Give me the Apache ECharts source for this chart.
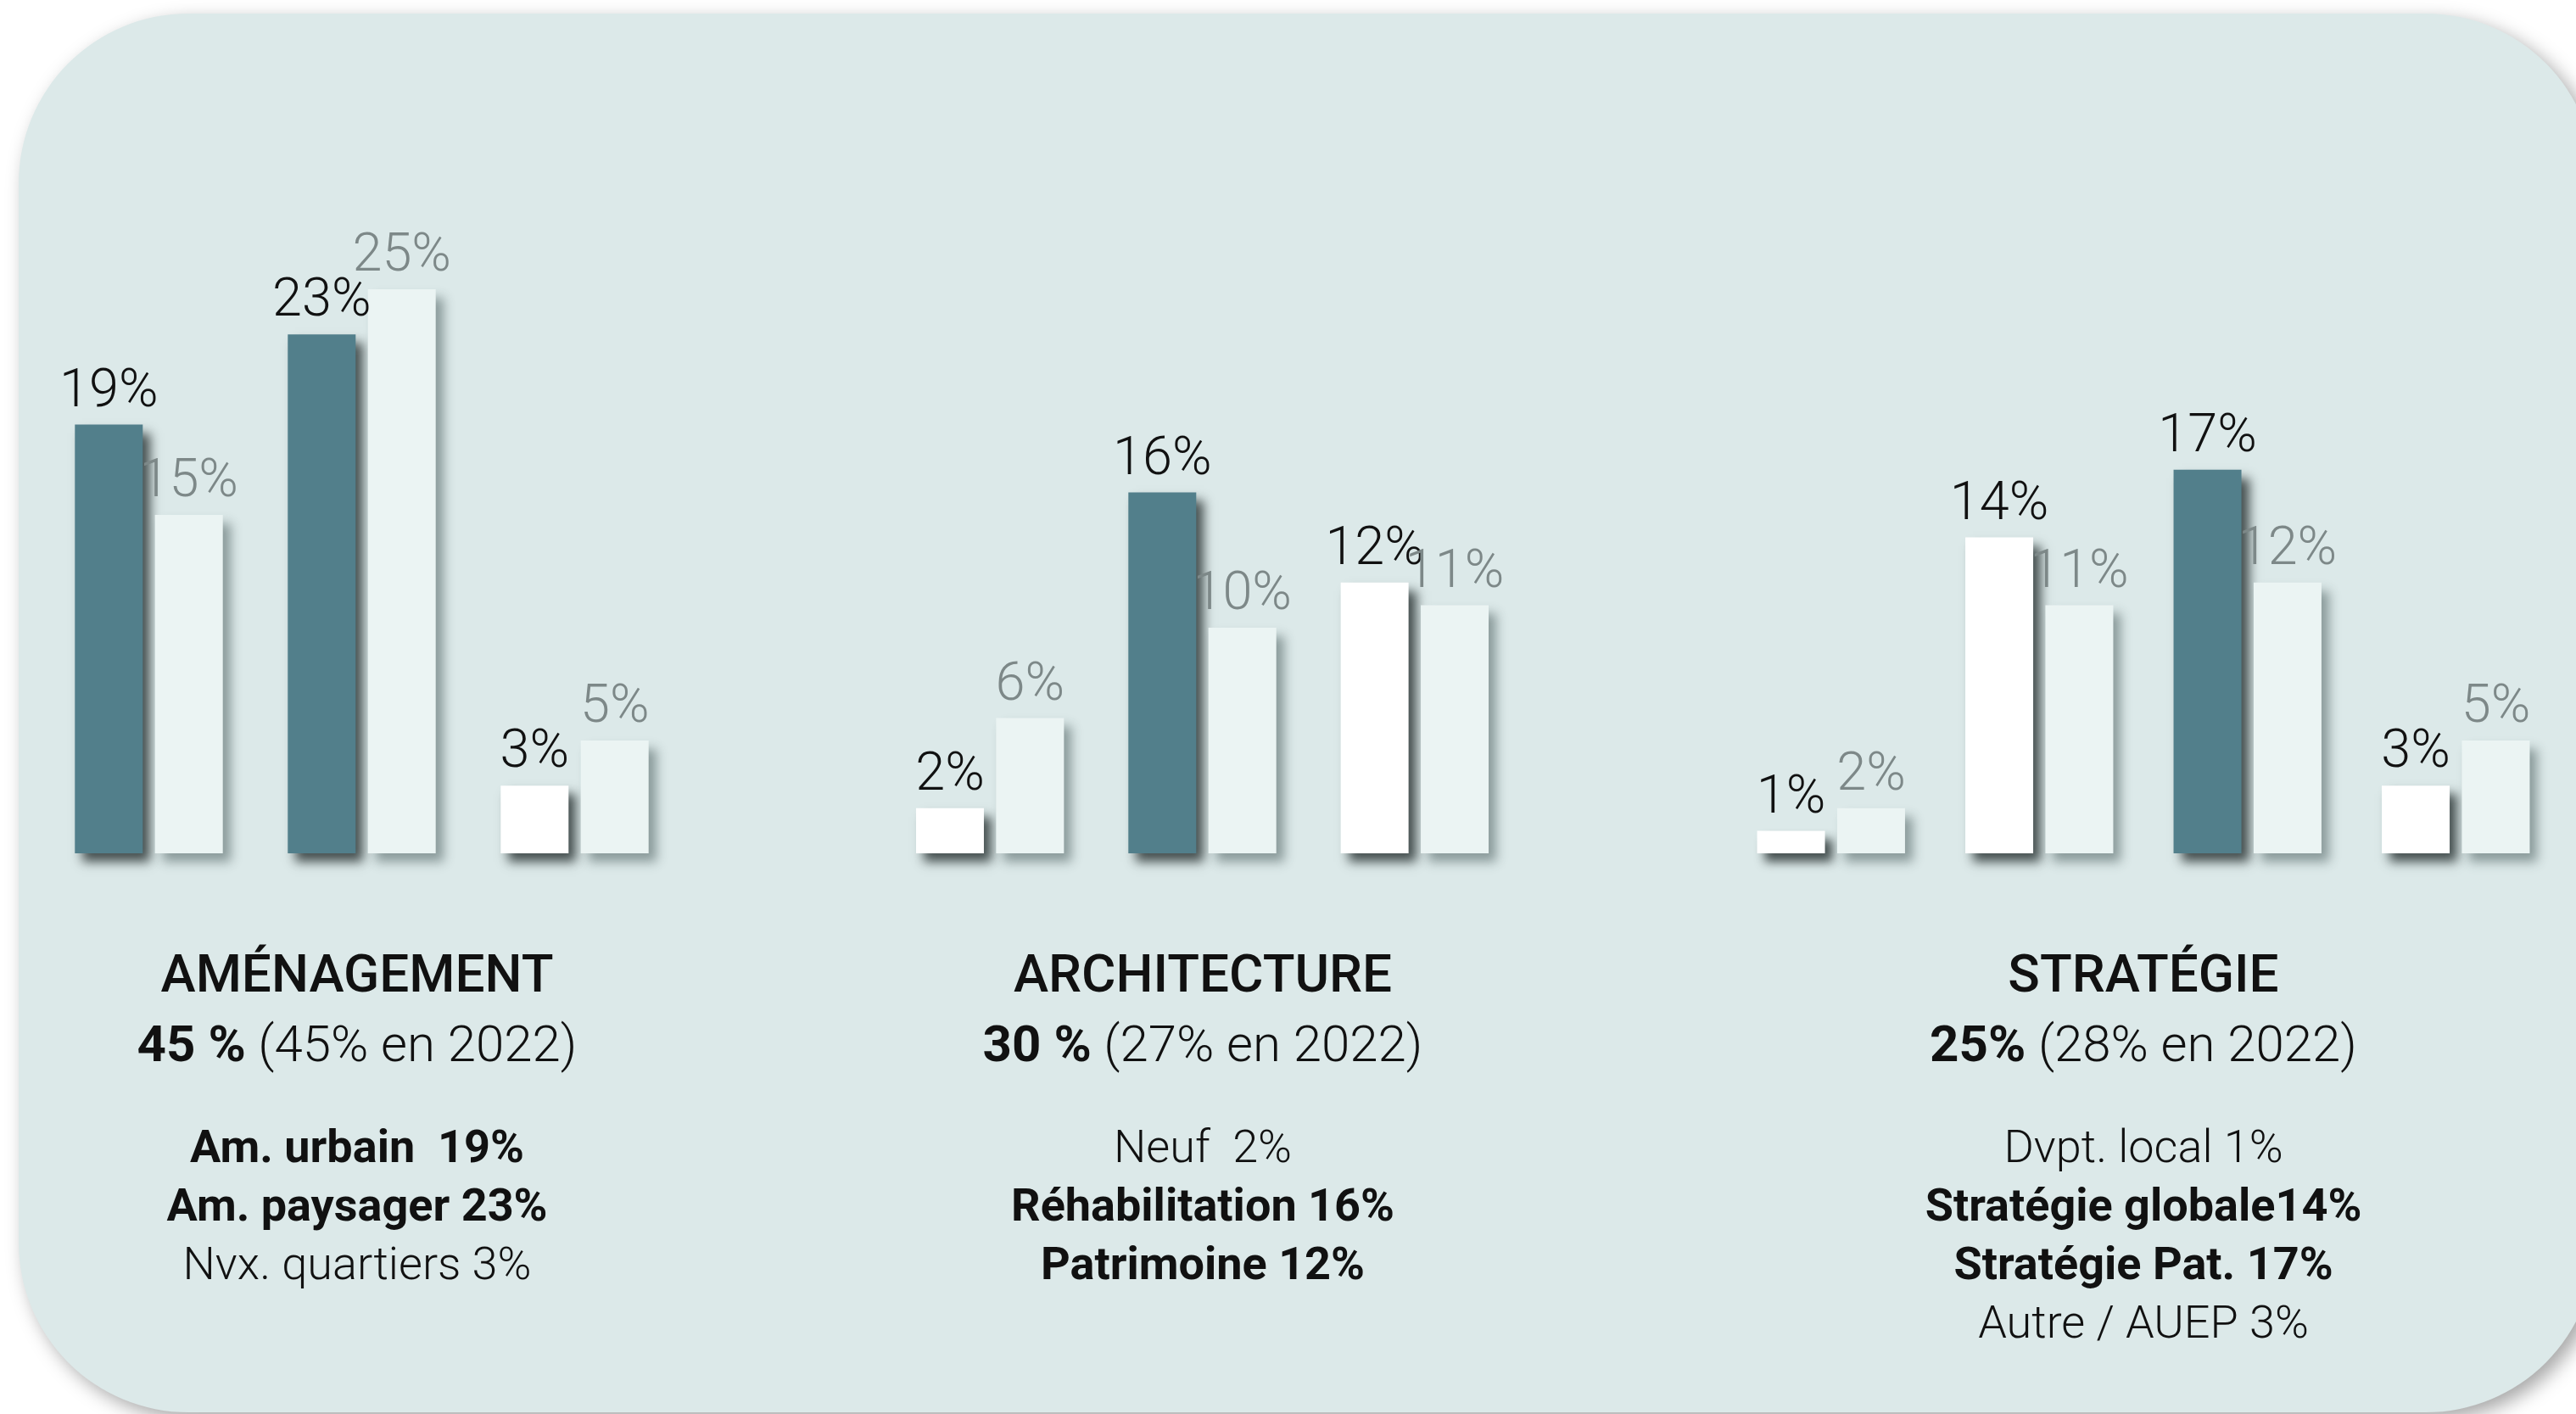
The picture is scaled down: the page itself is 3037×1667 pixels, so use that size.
<!DOCTYPE html>
<html>
<head>
<meta charset="utf-8">
<script src="https://cdn.jsdelivr.net/npm/echarts@6/dist/echarts.min.js"></script>
<style>
  html, body { margin: 0; padding: 0; background: #fff; }
  #main { width: 3037px; height: 1667px; }
</style>
</head>
<body>
<div id="main"></div>
<script>
// data
const categories = ['Am. urbain', 'Am. paysager', 'Nvx. quartiers', 'Neuf', 'Réhabilitation', 'Patrimoine',
  'Dvpt. local', 'Stratégie globale', 'Stratégie Pat.', 'Autre / AUEP'];
const values2023 = [19, 23, 3, 2, 16, 12, 1, 14, 17, 3];
const values2022 = [15, 25, 5, 6, 10, 11, 2, 11, 12, 5];
const highlight = [true, true, false, false, true, false, false, false, true, false];
const detailBold = [true, true, false, false, true, true, false, true, true, false];
const detailSep = ['  ', ' ', ' ', '  ', ' ', ' ', ' ', '', ' ', ' '];

const sections = ['AMÉNAGEMENT', 'ARCHITECTURE', 'STRATÉGIE'];
const sectionSizes = [3, 3, 4];
const sectionTotals = ['45 %', '30 %', '25%'];
const sectionTotals2022 = ['45%', '27%', '28%'];

// layout
const FONT = 'Roboto';
const DARK = '#527f8b', LIGHT = '#ebf4f3', WHITE = '#ffffff';
const gridBoxes = [{ left: 50, width: 753 }, { left: 1042, width: 751 }, { left: 2036, width: 982 }];
const textCenters = [421, 1418, 2527];

const chart = echarts.init(document.getElementById('main'), null, { renderer: 'canvas' });

const grid = [], xAxis = [], yAxis = [], series = [];
const graphic = [{
  type: 'rect', z: -10,
  shape: { x: 22, y: 16, width: 3038, height: 1649, r: 200 },
  style: { fill: '#dce9e9', shadowBlur: 22, shadowOffsetX: 8, shadowOffsetY: 8, shadowColor: 'rgba(0,0,0,0.35)' }
}];

let start = 0;
sections.forEach((name, i) => {
  const n = sectionSizes[i];
  const cats = categories.slice(start, start + n);
  const v23 = values2023.slice(start, start + n);
  const v22 = values2022.slice(start, start + n);
  const hl = highlight.slice(start, start + n);

  grid.push({ left: gridBoxes[i].left, width: gridBoxes[i].width, top: 341, height: 665 });
  xAxis.push({ type: 'category', gridIndex: i, data: cats, show: false });
  yAxis.push({ type: 'value', gridIndex: i, min: 0, max: 25, show: false });

  series.push({
    type: 'bar', xAxisIndex: i, yAxisIndex: i, barWidth: 80, barGap: '18%',
    data: v23.map((v, k) => ({ value: v, itemStyle: { color: hl[k] ? DARK : WHITE } })),
    itemStyle: { shadowBlur: 12, shadowOffsetX: 9, shadowOffsetY: 10, shadowColor: 'rgba(20,30,30,0.75)' },
    label: { show: true, position: 'top', distance: 6, formatter: '{c}%',
      fontFamily: FONT, fontWeight: 300, fontSize: 63, color: '#111' }
  });
  series.push({
    type: 'bar', xAxisIndex: i, yAxisIndex: i, barWidth: 80,
    data: v22,
    itemStyle: { color: LIGHT, shadowBlur: 12, shadowOffsetX: 9, shadowOffsetY: 10, shadowColor: 'rgba(40,60,60,0.45)' },
    label: { show: true, position: 'top', distance: 6, formatter: '{c}%',
      fontFamily: FONT, fontWeight: 300, fontSize: 63, color: '#7d8888' }
  });

  // texte sous les barres
  const cx = textCenters[i];
  graphic.push({
    type: 'text', z: 10, x: cx, y: 1153,
    style: { text: name, fontFamily: FONT, fontWeight: 500, fontSize: 62, fill: '#111',
      align: 'center', verticalAlign: 'middle', textAlign: 'center', textVerticalAlign: 'middle' }
  });
  graphic.push({
    type: 'text', z: 10, x: cx, y: 1236,
    style: {
      text: `{b|${sectionTotals[i]}}{l| (${sectionTotals2022[i]} en 2022)}`,
      align: 'center', verticalAlign: 'middle', textAlign: 'center', textVerticalAlign: 'middle',
      rich: {
        b: { fontFamily: FONT, fontWeight: 'bold', fontSize: 60, fill: '#111' },
        l: { fontFamily: FONT, fontWeight: 300, fontSize: 60, fill: '#111' }
      }
    }
  });
  for (let k = 0; k < n; k++) {
    const j = start + k;
    graphic.push({
      type: 'text', z: 10, x: cx, y: 1356 + k * 69,
      style: { text: categories[j] + detailSep[j] + values2023[j] + '%', fontFamily: FONT,
        fontWeight: detailBold[j] ? 'bold' : 300, fontSize: 54, fill: '#111',
        align: 'center', verticalAlign: 'middle', textAlign: 'center', textVerticalAlign: 'middle' }
    });
  }
  start += n;
});

chart.setOption({ animation: false, grid, xAxis, yAxis, series, graphic });
</script>
</body>
</html>
